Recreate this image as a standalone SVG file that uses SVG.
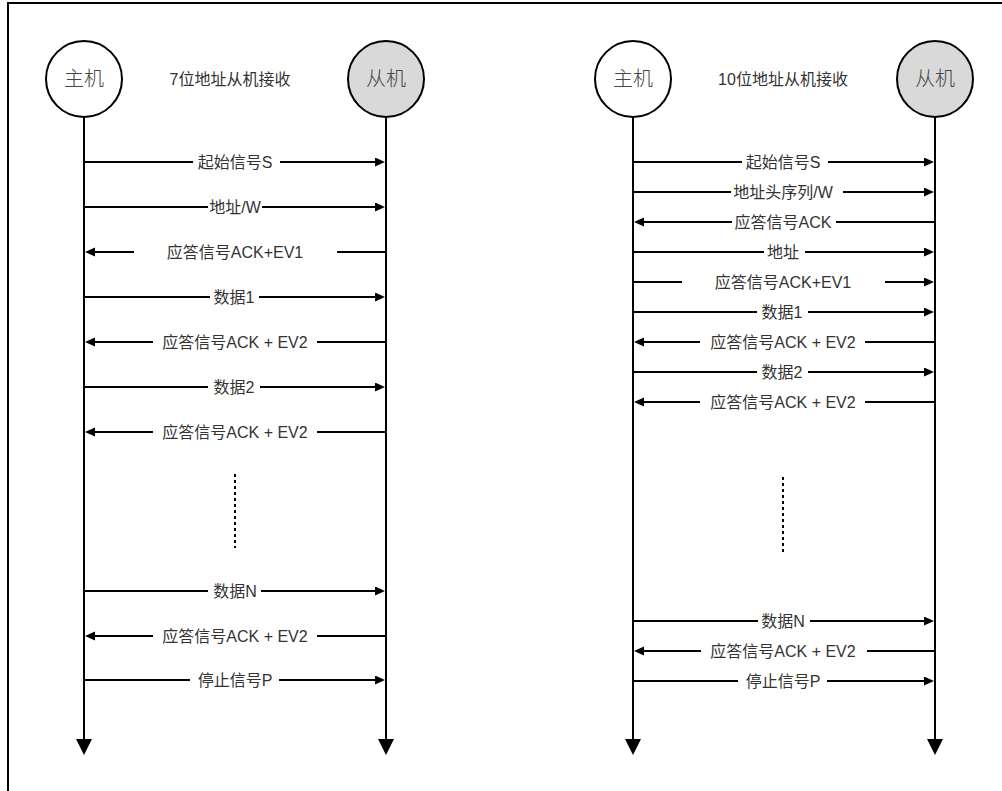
<svg xmlns="http://www.w3.org/2000/svg" width="1002" height="791" viewBox="0 0 1002 791">
<style>
  .frame{fill:none;stroke:#000;stroke-width:2}
  .host{fill:#fff;stroke:#000;stroke-width:2}
  .slave{fill:#d9d9d9;stroke:#000;stroke-width:2}
  .life{fill:none;stroke:#000;stroke-width:2}
  .msg{fill:none;stroke:#000;stroke-width:2}
  .dots{fill:none;stroke:#000;stroke-width:2;stroke-dasharray:3 3}
  text{font-family:"Liberation Sans","Noto Sans CJK SC",sans-serif;fill:#333}
  .nm{font-size:20px;text-anchor:middle;fill:#444;font-weight:300}
  .lb{font-size:16px;text-anchor:middle}
  .tt{font-size:16px;text-anchor:middle}
</style>
<defs>
  <marker id="ah" markerUnits="userSpaceOnUse" markerWidth="10" markerHeight="10" refX="7" refY="4.5" orient="auto">
    <path d="M0,0 L10,4.5 L0,9 z" fill="#000"/>
  </marker>
  <marker id="lh" markerUnits="userSpaceOnUse" markerWidth="16" markerHeight="16" refX="13" refY="8" orient="auto">
    <path d="M0,0 L16,8 L0,16 z" fill="#000"/>
  </marker>
</defs>
<rect width="1002" height="791" fill="#fff"/>
<path class="frame" d="M8,791 V3 H1002"/>

<!-- nodes -->
<g id="host-left"><circle class="host" cx="84" cy="79" r="38"/><text class="nm" x="84" y="86">主机</text></g>
<g id="slave-left"><circle class="slave" cx="386" cy="79" r="38"/><text class="nm" x="386" y="86">从机</text></g>
<g id="title-left"><text class="tt" x="230" y="85">7位地址从机接收</text></g>
<g id="host-right"><circle class="host" cx="633" cy="79" r="38"/><text class="nm" x="633" y="86">主机</text></g>
<g id="slave-right"><circle class="slave" cx="935" cy="79" r="38"/><text class="nm" x="935" y="86">从机</text></g>
<g id="title-right"><text class="tt" x="783" y="85">10位地址从机接收</text></g>

<!-- connectors -->
<g id="connectors">
  <path class="life" d="M84,117 V752" marker-end="url(#lh)"/>
  <path class="life" d="M386,117 V752" marker-end="url(#lh)"/>
  <path class="life" d="M633,117 V752" marker-end="url(#lh)"/>
  <path class="life" d="M935,117 V752" marker-end="url(#lh)"/>

  <!-- left -->
  <path class="msg" d="M85,162 H193"/><path class="msg" d="M280,162 H382" marker-end="url(#ah)"/>
  <path class="msg" d="M85,207 H208"/><path class="msg" d="M262,207 H382" marker-end="url(#ah)"/>
  <path class="msg" d="M385,252 H337"/><path class="msg" d="M134,252 H88" marker-end="url(#ah)"/>
  <path class="msg" d="M85,297 H210"/><path class="msg" d="M259,297 H382" marker-end="url(#ah)"/>
  <path class="msg" d="M385,342 H317"/><path class="msg" d="M153,342 H88" marker-end="url(#ah)"/>
  <path class="msg" d="M85,387 H208"/><path class="msg" d="M260,387 H382" marker-end="url(#ah)"/>
  <path class="msg" d="M385,432 H317"/><path class="msg" d="M153,432 H88" marker-end="url(#ah)"/>
  <path class="dots" d="M235,474 V548"/>
  <path class="msg" d="M85,591 H208"/><path class="msg" d="M261,591 H382" marker-end="url(#ah)"/>
  <path class="msg" d="M385,636 H317"/><path class="msg" d="M153,636 H88" marker-end="url(#ah)"/>
  <path class="msg" d="M85,680 H190"/><path class="msg" d="M279,680 H382" marker-end="url(#ah)"/>

  <!-- right -->
  <path class="msg" d="M634,162 H742"/><path class="msg" d="M828,162 H931" marker-end="url(#ah)"/>
  <path class="msg" d="M634,192 H731"/><path class="msg" d="M843,192 H931" marker-end="url(#ah)"/>
  <path class="msg" d="M934,222 H836"/><path class="msg" d="M732,222 H637" marker-end="url(#ah)"/>
  <path class="msg" d="M634,252 H764"/><path class="msg" d="M805,252 H931" marker-end="url(#ah)"/>
  <path class="msg" d="M634,282 H682"/><path class="msg" d="M885,282 H931" marker-end="url(#ah)"/>
  <path class="msg" d="M634,312 H757"/><path class="msg" d="M808,312 H931" marker-end="url(#ah)"/>
  <path class="msg" d="M934,342 H865"/><path class="msg" d="M700,342 H637" marker-end="url(#ah)"/>
  <path class="msg" d="M634,372 H757"/><path class="msg" d="M808,372 H931" marker-end="url(#ah)"/>
  <path class="msg" d="M934,402 H865"/><path class="msg" d="M700,402 H637" marker-end="url(#ah)"/>
  <path class="dots" d="M783,477 V552"/>
  <path class="msg" d="M634,621 H758"/><path class="msg" d="M810,621 H931" marker-end="url(#ah)"/>
  <path class="msg" d="M934,651 H867"/><path class="msg" d="M701,651 H637" marker-end="url(#ah)"/>
  <path class="msg" d="M634,681 H738"/><path class="msg" d="M827,681 H931" marker-end="url(#ah)"/>
</g>

<!-- labels -->
<g id="labels-left">
  <text class="lb" x="235" y="167.5">起始信号S</text>
  <text class="lb" x="235" y="212.5">地址/W</text>
  <text class="lb" x="235" y="257.5">应答信号ACK+EV1</text>
  <text class="lb" x="234" y="302.5">数据1</text>
  <text class="lb" x="235" y="347.5">应答信号ACK + EV2</text>
  <text class="lb" x="234" y="392.5">数据2</text>
  <text class="lb" x="235" y="437.5">应答信号ACK + EV2</text>
  <text class="lb" x="235" y="596.5">数据N</text>
  <text class="lb" x="235" y="641.5">应答信号ACK + EV2</text>
  <text class="lb" x="235" y="685.5">停止信号P</text>
</g>
<g id="labels-right">
  <text class="lb" x="783" y="167.5">起始信号S</text>
  <text class="lb" x="783" y="197.5">地址头序列/W</text>
  <text class="lb" x="783" y="227.5">应答信号ACK</text>
  <text class="lb" x="783" y="257.5">地址</text>
  <text class="lb" x="783" y="287.5">应答信号ACK+EV1</text>
  <text class="lb" x="782" y="317.5">数据1</text>
  <text class="lb" x="783" y="347.5">应答信号ACK + EV2</text>
  <text class="lb" x="782" y="377.5">数据2</text>
  <text class="lb" x="783" y="407.5">应答信号ACK + EV2</text>
  <text class="lb" x="783" y="626.5">数据N</text>
  <text class="lb" x="783" y="656.5">应答信号ACK + EV2</text>
  <text class="lb" x="783" y="686.5">停止信号P</text>
</g>
</svg>
